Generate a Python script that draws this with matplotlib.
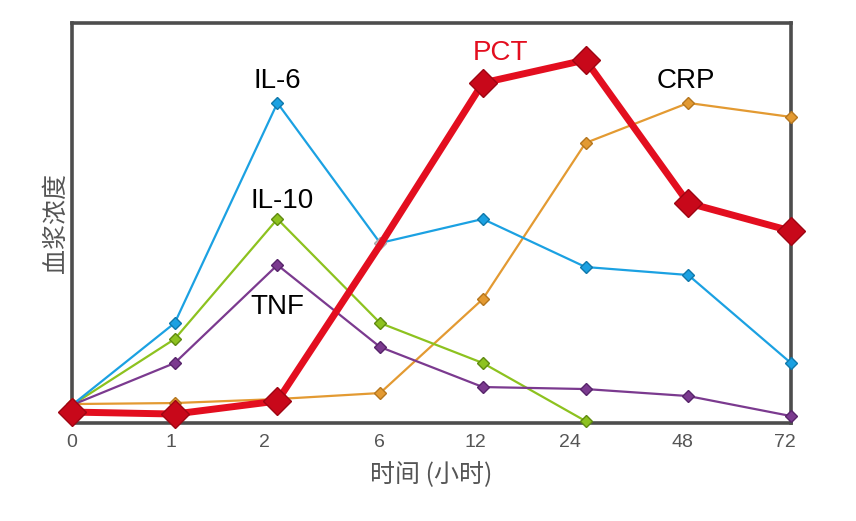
import matplotlib
matplotlib.use('Agg')
import matplotlib.pyplot as plt
from matplotlib import font_manager

# time points (hours) and relative plasma concentration (0-100)
hours = ['0', '1', '2', '6', '12', '24', '48', '72']
il6 = [4.5, 25, 80, 45, 51, 39, 37, 15]
il10 = [4.5, 21, 51, 25, 15, 0.5]
tnf = [4.5, 15, 39.5, 19, 9, 8.5, 6.75, 1.75]
crp = [4.75, 5, 6, 7.5, 31, 70, 80, 76.5]
pct = [2.75, 2.25, 5.5, 44.5, 85, 90.75, 55, 48]

names = {f.name for f in font_manager.fontManager.ttflist}
narrow = 'Liberation Sans Narrow' if 'Liberation Sans Narrow' in names else 'Liberation Sans'
cjk = ['Noto Sans CJK SC', 'DejaVu Sans']

fig = plt.figure(figsize=(8.56, 5.21), dpi=100)
ax = fig.add_axes([0.0841, 0.188, 0.8399, 0.768])

x = list(range(len(hours)))

ax.plot(x, crp, color='#e39a32', lw=1.6, marker='D', ms=6,
        mfc='#e39a32', mec='#b5761e', mew=1, clip_on=False, zorder=3)
ax.plot(x[:len(il10)], il10, color='#8dc21f', lw=1.6, marker='D', ms=6,
        mfc='#8dc21f', mec='#5f8a10', mew=1, clip_on=False, zorder=3)
ax.plot(x, tnf, color='#7b3a8f', lw=1.6, marker='D', ms=6,
        mfc='#7b3a8f', mec='#57246a', mew=1, clip_on=False, zorder=3)
ax.plot(x, il6, color='#1ba1e2', lw=1.6, marker='D', ms=6,
        mfc='#1ba1e2', mec='#0f78aa', mew=1, clip_on=False, zorder=3,
        markevery=[0, 1, 2, 4, 5, 6, 7])
# the IL-6 point at 6 h is grey in the original
ax.plot(x[3], il6[3], marker='D', ms=6, color='#c8c8c8', mec='#a8a8a8',
        clip_on=False, zorder=3)
ax.plot(x, pct, color='#e30e1f', lw=5, marker='D', ms=14,
        mfc='#c8081a', mec='#9e0512', mew=1, clip_on=False, zorder=4,
        markevery=[0, 1, 2, 4, 5, 6, 7])

ax.set_xlim(0, 7)
ax.set_ylim(0, 100)
# tick labels sit a little left of the data points in the original
offsets = [0, -0.04, -0.13, -0.01, -0.07, -0.15, -0.06, -0.06]
ax.set_xticks([xi + d for xi, d in zip(x, offsets)])
ax.set_xticklabels(hours, family=narrow, fontsize=14, color='#555555')
ax.set_yticks([])
ax.tick_params(axis='x', length=0, pad=8)
for s in ax.spines.values():
    s.set_linewidth(2.6)
    s.set_color('#4d4d4d')

ax.set_xlabel('时间 (小时)', family=cjk, fontsize=18, color='#555555', labelpad=8)
ax.set_ylabel('血浆浓度', family=cjk, fontsize=18, color='#555555', labelpad=2)

lab = dict(family=narrow, fontsize=20, ha='center', va='center')
ax.text(2.0, 85.5, 'IL-6', color='black', **lab)
ax.text(2.05, 55.5, 'IL-10', color='black', **lab)
ax.text(2.0, 29, 'TNF', color='black', **lab)
ax.text(4.17, 92.5, 'PCT', color='#e30e1f', **lab)
ax.text(5.98, 85.5, 'CRP', color='black', **lab)

fig.savefig('out.png', dpi=100)
